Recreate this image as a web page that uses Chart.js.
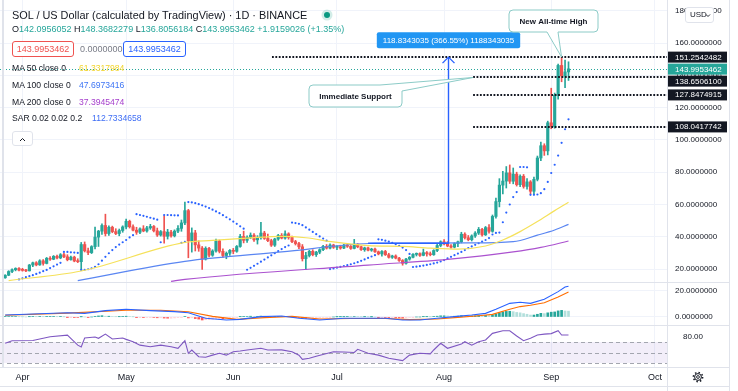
<!DOCTYPE html>
<html lang="en">
<head>
<meta charset="utf-8">
<title>SOL / US Dollar</title>
<script src="https://cdn.jsdelivr.net/npm/chart.js@4.4.1/dist/chart.umd.min.js"></script>
<style>
  body { margin: 0; background: #fff; }
  #wrap { position: relative; width: 738px; height: 391px; overflow: hidden; font-family: "Liberation Sans", Arial, sans-serif; color: #131722; }
  #chart { position: absolute; left: 0; top: 0; }
  .txt { position: absolute; white-space: nowrap; font-size: 9px; line-height: 11px; }
  .ma { font-size: 8.6px; }
  .up { color: #26a69a; }
  .box { position: absolute; height: 14px; line-height: 14px; font-size: 9px; text-align: center; border: 1px solid; border-radius: 3px; background: #fff; }
  .live { position: absolute; width: 6px; height: 6px; border-radius: 50%; background: #089981; box-shadow: 0 0 0 2.5px rgba(8, 153, 129, 0.18); }
  .btn { position: absolute; border: 1px solid #e0e3eb; border-radius: 3px; background: #fff; }
</style>
</head>
<body>
<div id="wrap">
  <canvas id="chart" width="730" height="391"></canvas>

  <div class="txt" style="left:12px;top:9px;font-size:10.9px;line-height:12px">SOL / US Dollar (calculated by TradingView) · 1D · BINANCE</div>
  <div class="live" style="left:324px;top:12px"></div>
  <div class="txt" style="left:12px;top:24px">O<span class="up">142.0956052</span> H<span class="up">148.3682279</span> L<span class="up">136.8056184</span> C<span class="up">143.9953462</span> <span class="up">+1.9159026 (+1.35%)</span></div>

  <div class="box" style="left:12px;top:41px;width:60px;border-color:#ef5350;color:#ef5350">143.9953462</div>
  <div class="txt" style="left:80px;top:44px;color:#787b86">0.0000000</div>
  <div class="box" style="left:123px;top:41px;width:61px;border-color:#2962ff;color:#2962ff">143.9953462</div>

  <div class="txt ma" style="left:12px;top:63px">MA 50 close 0</div>
  <div class="txt ma" style="left:79px;top:63px;color:#f2d52e">61.3317984</div>
  <div class="txt ma" style="left:12px;top:80px">MA 100 close 0</div>
  <div class="txt ma" style="left:79px;top:80px;color:#3f76f5">47.6973416</div>
  <div class="txt ma" style="left:12px;top:97px">MA 200 close 0</div>
  <div class="txt ma" style="left:79px;top:97px;color:#a53fcc">37.3945474</div>
  <div class="txt ma" style="left:12px;top:113px">SAR 0.02 0.02 0.2</div>
  <div class="txt ma" style="left:92px;top:113px;color:#3f6ef5">112.7334658</div>

  <div class="btn" style="left:12px;top:131px;width:19px;height:13px">
    <svg width="19" height="13" viewBox="0 0 19 13"><path d="M7 8 L9.5 5.5 L12 8" fill="none" stroke="#131722" stroke-width="1"/></svg>
  </div>
  <div class="btn" style="left:685px;top:7px;width:27px;height:14px;font-size:8px;line-height:14px">
    <span style="position:absolute;left:4px">USD</span>
    <svg style="position:absolute;left:19px;top:5px" width="6" height="5" viewBox="0 0 6 5"><path d="M1 1.5 L3 3.5 L5 1.5" fill="none" stroke="#131722" stroke-width="0.9"/></svg>
  </div>
  <svg style="position:absolute;left:692px;top:371px" width="12" height="12" viewBox="0 0 12 12">
    <circle cx="6" cy="6" r="3.4" fill="none" stroke="#131722" stroke-width="1"/>
    <circle cx="6" cy="6" r="4.6" fill="none" stroke="#131722" stroke-width="1.6" stroke-dasharray="1.5 2.1"/>
    <circle cx="6" cy="6" r="1.4" fill="none" stroke="#131722" stroke-width="0.9"/>
  </svg>
</div>

<script>
// x values are days counted from 1 Apr 2021; the first candle is 27 Mar 2021
var firstDay = -5;
var monthDays = [0, 30, 61, 91, 122, 153, 183];
var monthNames = ["Apr", "May", "Jun", "Jul", "Aug", "Sep", "Oct"];
var priceTicks = [20, 40, 60, 80, 100, 120, 140, 160, 180];
var macdTicks = [0, 20];
var rsiTicks = [80];
var rsiLevels = [70, 50, 30];

// daily candles, 27 Mar .. 6 Sep
var open = [
  14.6, 16.2, 18.5, 19.6, 20.4,
  19.3, 19.2, 18.9, 22.5, 23.9, 22.6, 25.1, 23.5, 26.7, 26.1, 27.9, 26.9, 28.9, 27.6, 25.8, 27.4, 25.0, 24.6, 35.2, 31.3, 30.2, 33.9, 39.8, 43.5, 47.0, 42.0, 45.9, 43.2, 42.0, 43.9,
  46.1, 49.6, 46.2, 44.1, 42.8, 44.9, 43.6, 45.5, 46.4, 43.7, 41.1, 43.2, 40.3, 42.9, 40.6, 43.5, 45.2, 48.6, 56.2, 37.5, 42.4, 35.0, 33.0, 26.2, 32.8, 28.6, 31.2, 37.4, 31.0, 28.4, 29.8,
  31.6, 31.0, 34.0, 40.2, 37.8, 39.7, 41.0, 38.1, 39.5, 42.3, 39.0, 37.6, 34.8, 38.6, 40.8, 39.2, 41.8, 39.6, 37.0, 35.8, 33.8, 26.4, 28.4, 31.0, 28.9, 30.5, 32.0, 34.1, 33.0, 34.9,
  33.5, 33.9, 33.0, 34.8, 34.1, 32.8, 35.3, 33.8, 32.0, 33.1, 31.7, 32.4, 30.7, 29.4, 30.9, 28.9, 27.3, 28.1, 26.8, 25.3, 23.6, 26.2, 27.3, 29.1, 29.6, 28.5, 30.2, 29.4, 28.9, 31.5, 34.6,
  36.9, 35.6, 34.3, 33.6, 35.8, 36.9, 41.6, 39.4, 38.2, 40.5, 42.3, 44.6, 41.2, 45.7, 43.4, 52.6, 61.8, 72.0, 74.5, 79.6, 74.4, 78.8, 72.3, 77.5, 71.2, 74.0, 68.2, 75.6, 88.8, 96.4, 93.2,
  110.6, 108.3, 127.6, 146.1, 139.6, 142.0956
];
var high = [
  16.5, 19.0, 20.2, 20.8, 20.9,
  20.5, 19.8, 22.9, 24.3, 24.6, 25.8, 25.9, 27.2, 27.8, 28.4, 28.7, 29.6, 29.8, 28.9, 28.1, 28.0, 26.4, 36.5, 36.8, 33.0, 34.5, 46.0, 44.0, 48.0, 54.0, 46.8, 46.6, 45.0, 44.8, 46.8,
  51.0, 50.3, 47.4, 45.9, 45.6, 46.9, 46.4, 47.7, 47.0, 45.4, 43.9, 53.0, 44.6, 44.0, 44.3, 47.0, 50.4, 61.5, 57.0, 45.5, 44.0, 37.5, 34.0, 33.8, 33.5, 32.0, 38.6, 38.0, 32.6, 30.6, 32.1,
  32.8, 34.6, 41.5, 43.5, 40.6, 42.4, 42.0, 40.7, 49.0, 43.4, 41.7, 38.5, 39.1, 41.5, 42.0, 43.7, 42.5, 40.4, 37.8, 36.5, 35.2, 30.4, 31.6, 32.0, 31.0, 32.6, 34.7, 35.2, 35.6, 35.4,
  34.6, 34.8, 35.4, 35.6, 34.6, 38.4, 35.8, 34.2, 33.6, 33.7, 32.9, 33.0, 31.2, 31.5, 31.6, 29.8, 28.6, 28.8, 27.3, 25.9, 26.7, 27.8, 29.6, 30.0, 30.1, 32.4, 30.9, 30.6, 32.0, 35.3, 37.5,
  38.3, 37.0, 35.2, 36.3, 37.4, 42.8, 42.5, 40.8, 41.2, 43.2, 45.8, 45.2, 46.4, 47.6, 53.5, 64.0, 76.0, 80.5, 83.5, 84.5, 82.6, 80.0, 78.4, 78.6, 76.0, 74.8, 77.0, 90.0, 98.6, 97.6, 111.6,
  132.0, 129.0, 147.0, 151.2542, 149.5, 148.3682
];
var low = [
  14.3, 15.9, 17.8, 18.9, 18.9,
  18.7, 18.4, 18.8, 21.5, 22.0, 22.3, 22.4, 23.2, 25.4, 25.8, 26.3, 26.4, 27.0, 25.1, 25.5, 24.5, 24.0, 19.6, 30.6, 29.0, 29.6, 32.5, 34.0, 41.5, 40.5, 40.8, 42.5, 41.3, 40.6, 42.8,
  44.8, 45.4, 43.6, 41.5, 42.0, 43.1, 42.9, 44.6, 43.0, 40.2, 40.4, 36.0, 38.6, 39.8, 39.9, 42.6, 43.4, 47.5, 27.0, 30.5, 31.2, 31.0, 19.8, 25.6, 27.5, 27.9, 30.5, 30.0, 27.2, 26.4, 28.5,
  29.5, 30.4, 33.5, 36.2, 36.5, 38.8, 37.2, 35.5, 38.6, 38.4, 37.0, 34.0, 34.0, 37.8, 38.7, 38.6, 38.5, 36.3, 34.9, 32.6, 25.0, 19.6, 27.5, 28.2, 27.8, 29.5, 31.4, 32.4, 32.5, 32.8,
  32.0, 32.3, 32.6, 33.4, 32.2, 32.5, 33.2, 31.5, 31.0, 31.3, 31.0, 30.3, 28.8, 28.0, 28.4, 26.8, 26.6, 26.3, 24.8, 22.4, 23.0, 25.5, 26.9, 28.1, 27.9, 28.2, 28.0, 28.2, 28.5, 30.8, 33.8,
  34.9, 33.8, 32.9, 33.1, 33.9, 36.2, 38.6, 37.5, 37.4, 39.6, 41.4, 40.4, 40.8, 42.3, 42.8, 51.5, 58.5, 66.5, 70.2, 73.0, 72.8, 71.4, 71.0, 70.1, 69.5, 66.4, 66.4, 74.6, 87.2, 90.4, 90.7,
  106.9, 107.2, 125.2, 136.0, 132.4, 136.8056
];
var close = [
  16.2, 18.5, 19.6, 20.4, 19.3,
  19.2, 18.9, 22.5, 23.9, 22.6, 25.1, 23.5, 26.7, 26.1, 27.9, 26.9, 28.9, 27.6, 25.8, 27.4, 25.0, 24.6, 35.2, 31.3, 30.2, 33.9, 39.8, 43.5, 47.0, 42.0, 45.9, 43.2, 42.0, 43.9, 46.1,
  49.6, 46.2, 44.1, 42.8, 44.9, 43.6, 45.5, 46.4, 43.7, 41.1, 43.2, 40.3, 42.9, 40.6, 43.5, 45.2, 48.6, 56.2, 37.5, 42.4, 35.0, 33.0, 26.2, 32.8, 28.6, 31.2, 37.4, 31.0, 28.4, 29.8, 31.6,
  31.0, 34.0, 40.2, 37.8, 39.7, 41.0, 38.1, 39.5, 42.3, 39.0, 37.6, 34.8, 38.6, 40.8, 39.2, 41.8, 39.6, 37.0, 35.8, 33.8, 26.4, 28.4, 31.0, 28.9, 30.5, 32.0, 34.1, 33.0, 34.9, 33.5,
  33.9, 33.0, 34.8, 34.1, 32.8, 35.3, 33.8, 32.0, 33.1, 31.7, 32.4, 30.7, 29.4, 30.9, 28.9, 27.3, 28.1, 26.8, 25.3, 23.6, 26.2, 27.3, 29.1, 29.6, 28.5, 30.2, 29.4, 28.9, 31.5, 34.6, 36.9,
  35.6, 34.3, 33.6, 35.8, 36.9, 41.6, 39.4, 38.2, 40.5, 42.3, 44.6, 41.2, 45.7, 43.4, 52.6, 61.8, 72.0, 74.5, 79.6, 74.4, 78.8, 72.3, 77.5, 71.2, 74.0, 68.2, 75.6, 88.8, 96.4, 93.2, 110.6,
  108.3, 127.6, 146.1, 139.6, 142.1, 143.9953
];

// parabolic SAR, one dot a day (null = not on screen)
var sar = [
  null, null, null, null, 13.6,
  14.3, 15.0, 15.6, 16.2, 17.0, 17.8, 18.7, 19.5, 20.6, 21.7, 22.8, 23.9, 30.6, 30.6, 30.4, 30.2, 30.0, 19.5, 19.6, 19.9, 20.5, 21.4, 23.0, 25.2, 27.6, 29.8, 31.8, 33.6, 35.2, 36.6,
  38.0, 39.6, 41.0, 54.0, 53.5, 53.0, 52.4, 51.8, 51.2, 50.6, 36.6, 53.5, 53.5, 53.4, 53.3, 53.2, 36.2, 36.8, 61.5, 61.3, 60.8, 60.2, 59.5, 58.7, 57.8, 56.8, 55.7, 54.6, 53.4, 52.1, 50.8,
  49.4, 48.0, 46.5, 45.0, 19.6, 20.8, 22.0, 23.3, 24.6, 25.9, 27.2, 28.5, 29.8, 31.1, 32.4, 33.6, 34.6, 48.8, 48.5, 48.0, 47.2, 45.8, 44.4, 43.0, 41.6, 40.2, 38.9, 37.6, 20.0, 20.4,
  20.9, 21.4, 21.9, 22.4, 23.0, 23.6, 24.3, 25.1, 26.0, 26.9, 27.8, 28.6, 38.4, 38.1, 37.6, 37.0, 36.2, 35.4, 34.4, 33.3, 31.8, 29.4, 21.3, 21.5, 21.8, 22.2, 22.6, 23.0, 23.5, 24.0, 24.7,
  25.6, 26.6, 27.6, 28.6, 29.6, 30.6, 31.8, 33.0, 34.0, 35.0, 36.0, 37.0, 38.0, 39.2, 41.4, 42.4, 42.6, 49.0, 55.0, 60.0, 64.6, 67.7, 83.2, 83.2, 83.0, 66.0, 66.0, 66.2, 67.0, 69.5, 74.0,
  79.5, 84.6, 90.3, 98.2, 106.6, 112.73
];

// moving averages at a few days each
var ma50Days = [-4, 17, 47, 55, 65, 75, 82, 90, 100, 110, 118, 126, 134, 139, 144, 149, 154, 158];
var ma50 = [12.9, 18.8, 36.5, 37.8, 39.2, 40.3, 39.4, 36.8, 34.5, 34.0, 33.0, 32.4, 34.3, 38.0, 43.2, 49.4, 56.2, 61.33];
var ma100Days = [16, 47, 75, 102, 115, 129, 142, 149, 154, 158];
var ma100 = [12.9, 24.8, 30.6, 36.0, 36.1, 36.2, 37.0, 41.0, 44.2, 47.7];
var ma200Days = [43, 47, 100, 123, 142, 150, 158];
var ma200 = [12.4, 13.6, 22.5, 26.0, 30.6, 33.4, 37.39];

// MACD 12 26 9
var macdDays = [-5, 3, 13, 18, 24, 30, 37, 44, 48, 53, 59, 63, 69, 75, 80, 86, 93, 100, 105, 110, 115, 120, 125, 130, 134, 137, 141, 144, 147, 151, 155, 157, 158];
var macdLine = [1.5, 2.3, 3.3, 2.8, 4.9, 5.9, 4.9, 4.1, 3.3, -1.0, -2.3, -1.8, 0.3, 0.8, -1.0, -2.3, -1.0, -1.0, -1.0, -2.3, -2.3, -1.0, 0.3, 1.5, 2.8, 5.9, 10.5, 11.3, 10.5, 13.6, 19.5, 23.0, 23.69];
var signalDays = [-5, 13, 30, 40, 48, 55, 62, 70, 78, 86, 95, 105, 112, 120, 126, 132, 136, 141, 144, 147, 151, 155, 158];
var signalLine = [1.3, 3.0, 5.2, 5.2, 4.0, 0.5, -1.8, -0.5, 0.5, -1.5, -1.2, -1.2, -2.0, -1.5, -0.3, 1.0, 2.0, 6.0, 8.0, 9.0, 11.0, 15.4, 19.21];
var macdHist = [
  0.3, 0.4, 0.4, 0.4, 0.2,
  0.1, 0.0, 0.2, 0.3, 0.2, 0.3, 0.2, 0.3, 0.3, 0.3, 0.2, 0.3, 0.1, -0.1, -0.1, -0.3, -0.4, 0.1, 0.0, -0.2, 0.0, 0.5, 0.8, 1.0, 0.6, 0.6, 0.4, 0.2, 0.2, 0.3,
  0.6, 0.4, 0.1, -0.2, -0.2, -0.3, -0.3, -0.2, -0.4, -0.6, -0.6, -0.8, -0.9, -0.9, -0.7, -0.5, -0.3, 0.3, -0.7, -0.6, -1.2, -1.6, -2.3, -2.0, -2.0, -1.8, -1.2, -1.2, -1.3, -1.1, -0.9,
  -0.8, -0.5, 0.2, 0.3, 0.4, 0.6, 0.5, 0.5, 0.7, 0.6, 0.4, 0.1, 0.2, 0.3, 0.2, 0.3, 0.2, 0.0, -0.2, -0.4, -0.9, -1.1, -1.0, -1.0, -0.9, -0.7, -0.4, -0.3, -0.1, 0.0,
  0.1, 0.1, 0.2, 0.3, 0.2, 0.4, 0.3, 0.2, 0.2, 0.1, 0.1, 0.0, -0.2, -0.2, -0.4, -0.5, -0.5, -0.6, -0.7, -0.8, -0.6, -0.4, -0.2, 0.0, 0.0, 0.2, 0.2, 0.1, 0.3, 0.6, 0.9,
  0.9, 0.8, 0.6, 0.6, 0.7, 1.0, 0.9, 0.8, 0.8, 0.9, 1.1, 1.0, 1.2, 1.1, 1.6, 2.4, 3.3, 3.9, 4.3, 4.4, 4.1, 3.5, 3.2, 2.6, 2.1, 1.5, 1.5, 2.1, 2.8, 2.6, 3.2,
  3.7, 3.9, 4.7, 5.1, 4.6, 4.48
];

// RSI 14
var rsiDays = [-5, -3, 3, 8, 13, 16, 17, 18, 21, 22, 24, 26, 29, 30, 32, 34, 37, 40, 43, 45, 47, 48, 49, 51, 53, 55, 57, 59, 61, 63, 65, 69, 71, 75, 78, 80, 81, 83, 85, 90, 93, 96, 97, 100, 103, 106, 110, 112, 115, 118, 119, 121, 123, 127, 128, 130, 132, 134, 136, 139, 141, 143, 145, 147, 149, 151, 153, 155, 156, 158];
var rsi = [67.5, 72.5, 73, 80, 83, 64, 60.5, 77.6, 79.5, 77, 85, 75.7, 77.6, 75, 70.6, 64, 61, 64, 61, 58, 72.5, 48.5, 54.8, 42, 41, 45, 48.5, 45, 51.5, 53, 54.8, 58, 54.8, 55, 51.5, 45, 37, 39, 43, 51.5, 51, 50, 56, 48.5, 45, 39, 34.5, 45, 48.5, 47.5, 54.8, 67.5, 58, 66, 70.6, 64, 70.6, 73.8, 86.5, 91.5, 91.5, 81.4, 72.5, 77, 83.3, 85, 86, 91.5, 83.3, 83.24];

// drawings on the chart
var levelPrices = [151.2542482, 138.65061, 127.8474915, 108.0417742];
var levelFromDays = [72.2, 130.4, 130.4, 130.4];
var axisTags = [151.2542482, 143.9953462, 138.65061, 127.8474915, 108.0417742];
var axisTagColors = ["#131722", "#26a69a", "#131722", "#131722", "#131722"];
var measureDay = 123.1, measureFromDay = 100, measureLow = 36.0, measureHigh = 151.2542482;
var measureText = "118.8343035 (366.55%) 1188343035";
var callouts = [
  { text: "New All-time High", day: 156, price: 151.2542482, box: [509, 10, 89, 22], tail: "bottom", base: [547, 558] },
  { text: "Immediate Support", day: 130.4, price: 138.65061, box: [309, 85, 93, 22], tail: "corner", base: [380, 91] }
];

var days = close.map(function (c, i) { return firstDay + i; });
var upColor = "#26a69a", downColor = "#ef5350";
var candleColors = close.map(function (c, i) { return c >= open[i] ? upColor : downColor; });
var histColors = macdHist.map(function (v, i) {
  var prev = i ? macdHist[i - 1] : v;
  if (v >= 0) return v >= prev ? "#26a69a" : "#b2dfdb";
  return v < prev ? "#ff5252" : "#ffcdd2";
});

function pts(xs, ys) { return xs.map(function (x, i) { return { x: x, y: ys[i] }; }); }

function hLine(ctx, x1, x2, y) { ctx.beginPath(); ctx.moveTo(x1, y); ctx.lineTo(x2, y); ctx.stroke(); }

function roundPoly(ctx, p) {
  var n = p.length;
  ctx.beginPath();
  ctx.moveTo((p[n - 1][0] + p[0][0]) / 2, (p[n - 1][1] + p[0][1]) / 2);
  for (var i = 0; i < n; i++) {
    var q = p[(i + 1) % n];
    ctx.arcTo(p[i][0], p[i][1], q[0], q[1], p[i][2]);
  }
  ctx.closePath();
}

var FONT = '"Liberation Sans", Arial, sans-serif';

var drawings = {
  id: "drawings",
  beforeDatasetsDraw: function (chart) {
    var ctx = chart.ctx, a = chart.chartArea, y = chart.scales.y, r = chart.scales.yRsi;
    ctx.save();
    var t = r.getPixelForValue(70), b = r.getPixelForValue(30);
    ctx.fillStyle = "rgba(126, 87, 194, 0.1)";
    ctx.fillRect(a.left, t, a.right - a.left, b - t);
    ctx.strokeStyle = "#a3a6af";
    ctx.lineWidth = 1;
    ctx.setLineDash([4, 3]);
    rsiLevels.forEach(function (v) { hLine(ctx, a.left, a.right, Math.round(r.getPixelForValue(v)) + 0.5); });
    // last price line
    ctx.strokeStyle = "#26a69a";
    ctx.setLineDash([1, 2]);
    hLine(ctx, a.left, a.right, Math.round(y.getPixelForValue(close[close.length - 1])) + 0.5);
    ctx.restore();
  },
  afterDatasetsDraw: function (chart) {
    var ctx = chart.ctx, a = chart.chartArea, x = chart.scales.x, y = chart.scales.y;
    ctx.save();
    // horizontal levels
    ctx.strokeStyle = "#131722";
    ctx.lineWidth = 1.8;
    ctx.setLineDash([1.8, 1.6]);
    levelPrices.forEach(function (p, i) {
      hLine(ctx, x.getPixelForValue(levelFromDays[i]), a.right, Math.round(y.getPixelForValue(p)));
    });
    ctx.setLineDash([]);

    // price range arrow
    var mx = Math.round(x.getPixelForValue(measureDay)) + 0.5;
    var top = y.getPixelForValue(measureHigh), bot = y.getPixelForValue(measureLow);
    ctx.strokeStyle = "#2962ff";
    ctx.lineWidth = 1.4;
    ctx.beginPath();
    ctx.moveTo(x.getPixelForValue(measureFromDay), bot);
    ctx.lineTo(mx, bot);
    ctx.lineTo(mx, top);
    ctx.stroke();
    ctx.beginPath();
    ctx.moveTo(mx - 6, top + 6);
    ctx.lineTo(mx, top);
    ctx.lineTo(mx + 6, top + 6);
    ctx.stroke();
    ctx.font = "8px " + FONT;
    var tw = ctx.measureText(measureText).width;
    var bw = tw + 12, bh = 16, by = top - 9 - bh;
    ctx.fillStyle = "#2196f3";
    roundPoly(ctx, [[mx - bw / 2, by, 2], [mx + bw / 2, by, 2], [mx + bw / 2, by + bh, 2], [mx - bw / 2, by + bh, 2]]);
    ctx.fill();
    ctx.fillStyle = "#fff";
    ctx.textAlign = "center";
    ctx.textBaseline = "middle";
    ctx.fillText(measureText, mx, by + bh / 2 + 0.5);

    // callouts
    ctx.font = "bold 8px " + FONT;
    callouts.forEach(function (c) {
      var tx = x.getPixelForValue(c.day), ty = y.getPixelForValue(c.price);
      var bx = c.box[0], byy = c.box[1], w = c.box[2], h = c.box[3], p;
      if (c.tail === "bottom") {
        p = [[bx, byy, 4], [bx + w, byy, 4], [bx + w, byy + h, 4], [c.base[1], byy + h, 0], [tx, ty, 0], [c.base[0], byy + h, 0], [bx, byy + h, 4]];
      } else {
        p = [[bx, byy, 4], [c.base[0], byy, 0], [tx, ty, 0], [bx + w, c.base[1], 0], [bx + w, byy + h, 4], [bx, byy + h, 4]];
      }
      roundPoly(ctx, p);
      ctx.fillStyle = "#fff";
      ctx.fill();
      ctx.strokeStyle = "#8ccbc7";
      ctx.lineWidth = 1;
      ctx.stroke();
      ctx.fillStyle = "#131722";
      ctx.fillText(c.text, bx + w / 2, byy + h / 2 + 0.5);
    });
    ctx.restore();
  },
  afterDraw: function (chart) {
    var ctx = chart.ctx, a = chart.chartArea, y = chart.scales.y;
    ctx.save();
    ctx.strokeStyle = "#e0e3eb";
    ctx.lineWidth = 1;
    [chart.scales.yMacd.top, chart.scales.yRsi.top, a.bottom].forEach(function (py) {
      hLine(ctx, 0, chart.width, Math.round(py) + 0.5);
    });
    hLine(ctx, 0, chart.width, 386.5);
    ctx.beginPath();
    ctx.moveTo(a.right + 0.5, 0); ctx.lineTo(a.right + 0.5, chart.height);
    ctx.moveTo(chart.width - 0.5, 0); ctx.lineTo(chart.width - 0.5, chart.height);
    ctx.stroke();
    ctx.lineWidth = 2;
    ctx.beginPath();
    ctx.moveTo(3, 0); ctx.lineTo(3, a.bottom);
    ctx.stroke();

    // price tags on the axis
    ctx.font = "8px " + FONT;
    ctx.textAlign = "left";
    ctx.textBaseline = "middle";
    var prevBottom = -100;
    axisTags.forEach(function (v, i) {
      var top = Math.max(y.getPixelForValue(v) - 5.5, prevBottom + 1);
      ctx.fillStyle = axisTagColors[i];
      ctx.fillRect(a.right + 1, top, 59, 11);
      ctx.fillStyle = "#fff";
      ctx.fillText(v.toFixed(7), a.right + 8, top + 5.8);
      prevBottom = top + 11;
    });
    ctx.restore();
  }
};

function fixedWidth(scale) { scale.width = 63; scale.paddingTop = 0; scale.paddingBottom = 0; }

Chart.defaults.font.family = FONT;
Chart.defaults.color = "#131722";

var ctx = document.getElementById("chart").getContext("2d");
var chart = new Chart(ctx, {
  type: "bar",
  data: {
    datasets: [
      { type: "line", label: "MA 50", data: pts(ma50Days, ma50), borderColor: "#f5e15a", borderWidth: 1.2, pointRadius: 0, cubicInterpolationMode: "monotone", yAxisID: "y" },
      { type: "line", label: "MA 100", data: pts(ma100Days, ma100), borderColor: "#5a86f2", borderWidth: 1.2, pointRadius: 0, cubicInterpolationMode: "monotone", yAxisID: "y" },
      { type: "line", label: "MA 200", data: pts(ma200Days, ma200), borderColor: "#ab52cf", borderWidth: 1.2, pointRadius: 0, cubicInterpolationMode: "monotone", yAxisID: "y" },
      { type: "line", label: "SAR", data: pts(days, sar), showLine: false, pointRadius: 1.1, pointBorderWidth: 0, pointBackgroundColor: "#2962ff", yAxisID: "y" },
      { label: "Body", data: days.map(function (d, i) { return { x: d, y: [open[i], close[i]] }; }), backgroundColor: candleColors, barThickness: 2.5, minBarLength: 1, grouped: false, yAxisID: "y" },
      { label: "Wick", data: days.map(function (d, i) { return { x: d, y: [low[i], high[i]] }; }), backgroundColor: candleColors, barThickness: 1, grouped: false, yAxisID: "y" },
      { type: "line", label: "MACD", data: pts(macdDays, macdLine), borderColor: "#2962ff", borderWidth: 1.1, pointRadius: 0, yAxisID: "yMacd" },
      { type: "line", label: "Signal", data: pts(signalDays, signalLine), borderColor: "#ff6d00", borderWidth: 1.1, pointRadius: 0, yAxisID: "yMacd" },
      { label: "Histogram", data: pts(days, macdHist), backgroundColor: histColors, barThickness: 2, grouped: false, yAxisID: "yMacd" },
      { type: "line", label: "RSI", data: pts(rsiDays, rsi), borderColor: "#7e57c2", borderWidth: 1.1, pointRadius: 0, yAxisID: "yRsi" }
    ]
  },
  options: {
    responsive: false,
    devicePixelRatio: 1,
    animation: false,
    events: [],
    layout: { padding: 0, autoPadding: false },
    plugins: { legend: { display: false }, tooltip: { enabled: false } },
    scales: {
      x: {
        type: "linear", min: -6.5, max: 186.5, offset: false,
        grid: { color: "#f0f3fa", drawTicks: false, offset: false },
        border: { display: false },
        afterBuildTicks: function (s) { s.ticks = monthDays.map(function (v) { return { value: v }; }); },
        afterFit: function (s) { s.height = 24; s.paddingLeft = 0; s.paddingRight = 0; },
        ticks: { autoSkip: false, maxRotation: 0, padding: 5, font: { size: 9 }, callback: function (v, i) { return monthNames[i]; } }
      },
      y: {
        type: "linear", position: "right", stack: "panes", stackWeight: 282, min: 12.0, max: 186.63,
        grid: { color: "#f0f3fa", drawTicks: false },
        border: { display: false },
        afterBuildTicks: function (s) { s.ticks = priceTicks.map(function (v) { return { value: v }; }); },
        afterFit: fixedWidth,
        ticks: { padding: 8, font: { size: 8 }, callback: function (v) { return v.toFixed(7); } }
      },
      yMacd: {
        type: "linear", position: "right", stack: "panes", stackWeight: 43, min: -6.15, max: 26.9,
        grid: { color: "#f0f3fa", drawTicks: false },
        border: { display: false },
        afterBuildTicks: function (s) { s.ticks = macdTicks.map(function (v) { return { value: v }; }); },
        afterFit: fixedWidth,
        ticks: { padding: 8, font: { size: 8 }, callback: function (v) { return v.toFixed(7); } }
      },
      yRsi: {
        type: "linear", position: "right", stack: "panes", stackWeight: 42, min: 22.4, max: 102.4,
        grid: { display: false },
        border: { display: false },
        afterBuildTicks: function (s) { s.ticks = rsiTicks.map(function (v) { return { value: v }; }); },
        afterFit: fixedWidth,
        ticks: { padding: 8, font: { size: 8 }, callback: function (v) { return v.toFixed(2); } }
      }
    }
  },
  plugins: [drawings]
});
</script>
</body>
</html>
